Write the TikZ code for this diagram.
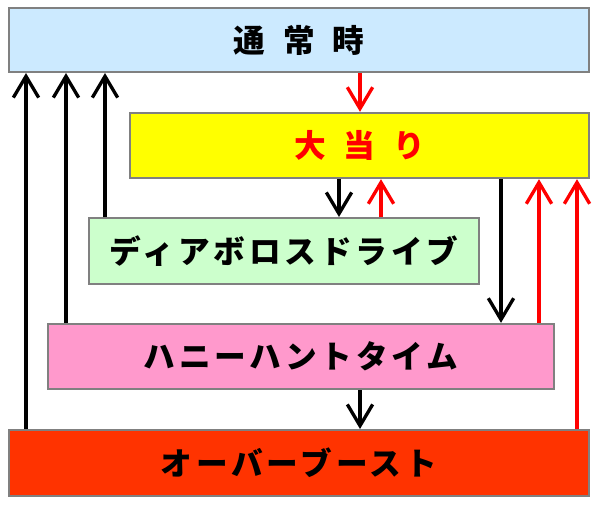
\documentclass[tikz,border=0pt]{standalone}
\usepackage{fontspec}
\newfontfamily\jpfont{Noto Sans CJK JP}
\usepackage{tikz}
\usetikzlibrary{arrows.meta, positioning}
\definecolor{boxgray}{RGB}{128,128,128}
\definecolor{normalblue}{RGB}{204,234,255}
\definecolor{hityellow}{RGB}{255,255,0}
\definecolor{diagreen}{RGB}{204,255,204}
\definecolor{honeypink}{RGB}{255,153,204}
\definecolor{boostred}{RGB}{255,51,0}

\begin{document}
\begin{tikzpicture}[x=0.75pt, y=-0.75pt,
  mode/.style={draw=boxgray, line width=1.5pt, inner sep=0pt, align=center, font=\jpfont\bfseries\fontsize{23.75}{28}\selectfont\addfontfeature{LetterSpace=12}},
  blk/.style={line width=2.5pt, -{Straight Barb[length=16pt, width=19pt]}},
  rd/.style={blk, red}
]
  \useasboundingbox (0,0) rectangle (600,504);

  \node[mode, fill=normalblue, minimum width=435pt, minimum height=48pt] (normal) at (299,40) {通\hspace{13.5pt}常\hspace{13.5pt}時};
  \node[mode, fill=hityellow, text=red, minimum width=344pt, minimum height=49pt] (hit) at (359.5,145.5) {大\hspace{13.5pt}当\hspace{13.5pt}り};
  \node[mode, fill=diagreen, minimum width=292.5pt, minimum height=49.5pt] (diablo) at (284,251) {ディアボロスドライブ};
  \node[mode, fill=honeypink, minimum width=379.5pt, minimum height=49pt] (honey) at (301,356.5) {ハニーハントタイム};
  \node[mode, fill=boostred, minimum width=435pt, minimum height=49.5pt] (boost) at (299,463) {オーバーブースト};

  % down the chain
  \draw[rd] (normal.south -| 360,0) -- (hit.north -| 360,0);
  \draw[blk] (hit.south -| 339,0) -- (diablo.north -| 339,0);
  \draw[blk] (hit.south -| 501,0) -- (honey.north -| 501,0);
  \draw[blk] (honey.south -| 360,0) -- (boost.north -| 360,0);

  % back to hit
  \draw[rd] (diablo.north -| 381,0) -- (hit.south -| 381,0);
  \draw[rd] (honey.north -| 539,0) -- (hit.south -| 539,0);
  \draw[rd] (boost.north -| 577,0) -- (hit.south -| 577,0);

  % back to normal
  \draw[blk] (diablo.north -| 105,0) -- (normal.south -| 105,0);
  \draw[blk] (honey.north -| 66,0) -- (normal.south -| 66,0);
  \draw[blk] (boost.north -| 26,0) -- (normal.south -| 26,0);
\end{tikzpicture}
\end{document}
